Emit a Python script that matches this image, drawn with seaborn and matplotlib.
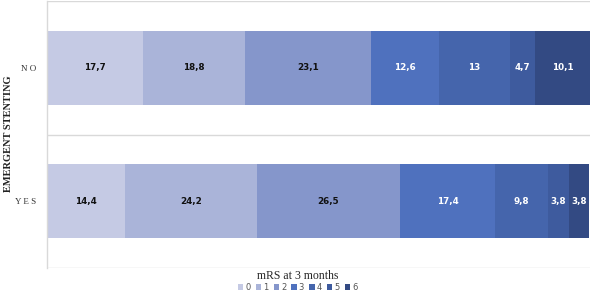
import pandas as pd
import matplotlib
matplotlib.use("Agg")
import matplotlib.pyplot as plt
import seaborn as sns

# ---- data ----
groups = ["NO", "YES"]
group_labels = ["N O", "Y E S"]
mrs_levels = ["0", "1", "2", "3", "4", "5", "6"]
no_values = [17.7, 18.8, 23.1, 12.6, 13.0, 4.7, 10.1]
yes_values = [14.4, 24.2, 26.5, 17.4, 9.8, 3.8, 3.8]

colors = ["#C5CAE4", "#AAB4D9", "#8596CB", "#4F71BE", "#4565AC", "#3E5B9E", "#334A83"]
label_colors = ["#111111", "#111111", "#111111", "white", "white", "white", "white"]

# long table + cumulative sums for stacking
rows = []
for g, vals in zip(groups, [no_values, yes_values]):
    cum = 0
    for lvl, v in zip(mrs_levels, vals):
        cum += v
        rows.append({"group": g, "mRS": lvl, "value": v, "cum": cum})
df = pd.DataFrame(rows)

sns.set_theme(style="white")
fig = plt.figure(figsize=(5.92, 2.92), dpi=100)
ax = fig.add_axes([47 / 592, 1 - 268 / 292, 543 / 592, 267 / 292])

# draw largest cumulative first so shorter bars lie on top
for i in reversed(range(len(mrs_levels))):
    sub = df[df["mRS"] == mrs_levels[i]]
    sns.barplot(data=sub, x="cum", y="group", order=groups, orient="h",
                color=colors[i], width=0.555, saturation=1, linewidth=0,
                ax=ax, label=mrs_levels[i])

# value labels in the middle of each segment
for _, r in df.iterrows():
    i = mrs_levels.index(r["mRS"])
    txt = f"{r['value']:g}".replace(".", ",")
    ax.text(r["cum"] - r["value"] / 2, groups.index(r["group"]), txt,
            ha="center", va="center", fontsize=6.3, fontweight="bold",
            color=label_colors[i], family="DejaVu Sans")

ax.set_xlim(0, 100)
ax.set_ylim(1.5, -0.5)
ax.set_xticks([])
ax.set_xlabel("")
ax.set_ylabel("")
ax.set_yticks(range(len(groups)))
ax.set_yticklabels(group_labels, family="Liberation Serif", fontsize=6.5,
                   color="#333333")
ax.tick_params(axis="y", length=0, pad=8)
ax.set_yticks([-0.5, 0.5, 1.5], minor=True)
ax.tick_params(axis="y", which="minor", length=0)
ax.grid(which="minor", axis="y", color="#D9D9D9", linewidth=1)
ax.set_axisbelow(True)
for s in ["top", "right", "bottom"]:
    ax.spines[s].set_visible(False)
ax.spines["left"].set_color("#D9D9D9")
ax.spines["left"].set_linewidth(1)

fig.text(9 / 592, 1 - 134 / 292, "EMERGENT STENTING", rotation=90,
         ha="center", va="center", family="Liberation Serif",
         fontweight="bold", fontsize=7.5, color="#222222")

# legend below, centred on the figure
handles, labels = ax.get_legend_handles_labels()
if ax.get_legend() is not None:
    ax.get_legend().remove()
order = sorted(range(len(labels)), key=lambda k: int(labels[k]))
leg = fig.legend([handles[k] for k in order], [labels[k] for k in order],
                 title="mRS at 3 months", loc="lower center",
                 bbox_to_anchor=(0.503, -0.018), ncol=7, frameon=False,
                 fontsize=6, handlelength=0.65, handleheight=0.65,
                 handletextpad=0.25, columnspacing=0.6, borderpad=0.15,
                 labelspacing=0.1,
                 title_fontproperties={"family": "Liberation Serif", "size": 8.5})
for t in leg.get_texts():
    t.set_color("#555555")

fig.savefig("out.png", dpi=100)
